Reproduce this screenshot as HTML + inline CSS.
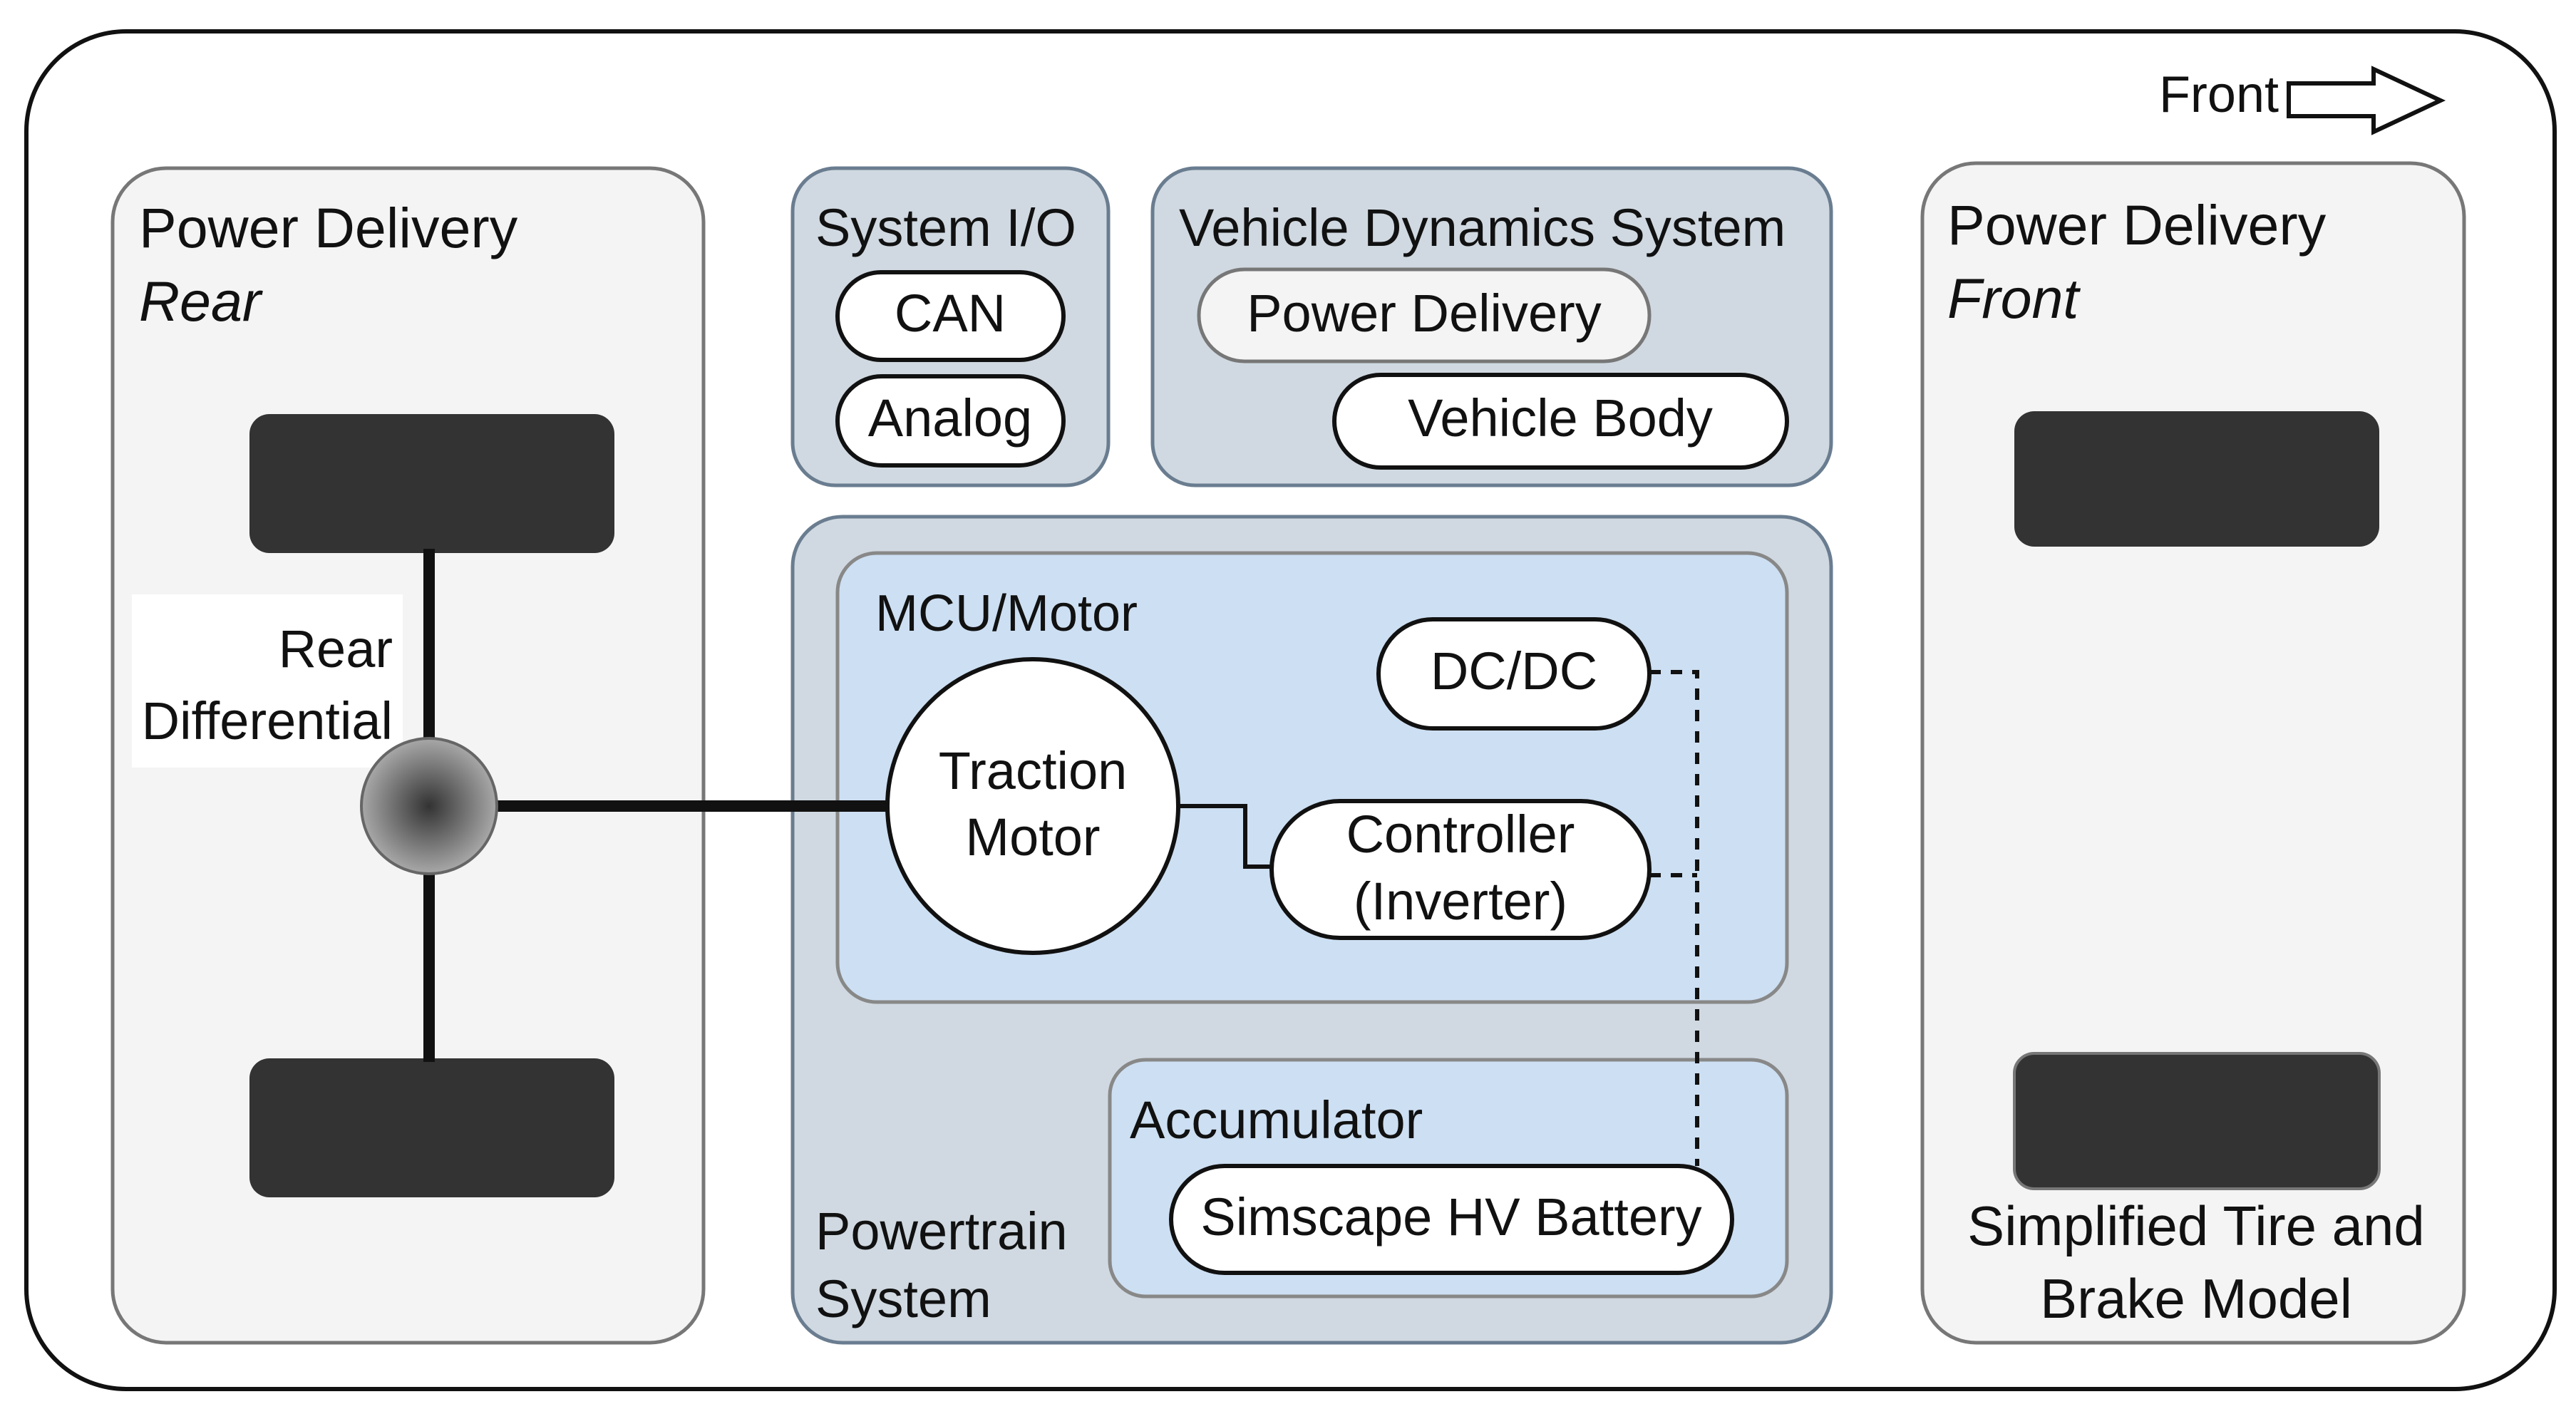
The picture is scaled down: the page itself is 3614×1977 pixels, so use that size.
<!DOCTYPE html>
<html><head><style>body{margin:0;background:#fff}svg{display:block}text{font-family:"Liberation Sans",sans-serif;fill:#111}</style></head>
<body>
<svg width="3614" height="1977" viewBox="0 0 3614 1977" xmlns="http://www.w3.org/2000/svg">
<defs>
<radialGradient id="g" cx="50%" cy="50%" r="50%"><stop offset="0" stop-color="#333"/><stop offset="1" stop-color="#a8a8a8"/></radialGradient>
</defs>
<rect x="37" y="44" width="3547" height="1905" rx="140" fill="#fff" stroke="#111" stroke-width="6"/>
<!-- Left power delivery -->
<rect x="158" y="236" width="829" height="1648" rx="75" fill="#f4f4f4" stroke="#777" stroke-width="5"/>
<text x="195" y="347" font-size="79">Power Delivery</text>
<text x="195" y="450" font-size="79" font-style="italic">Rear</text>
<rect x="350" y="581" width="512" height="195" rx="28" fill="#333"/>
<rect x="350" y="1485" width="512" height="195" rx="28" fill="#333"/>
<rect x="594" y="770" width="16" height="720" fill="#111"/>
<rect x="185" y="834" width="380" height="243" fill="#fff"/>
<text x="551" y="936" font-size="74" text-anchor="end">Rear</text>
<text x="551" y="1037" font-size="74" text-anchor="end">Differential</text>
<!-- System I/O -->
<rect x="1112" y="236" width="443" height="445" rx="60" fill="#d0d9e1" stroke="#6a7d90" stroke-width="5"/>
<text x="1144" y="345" font-size="74">System I/O</text>
<rect x="1175" y="382" width="317" height="123" rx="61" fill="#fff" stroke="#111" stroke-width="6"/>
<text x="1333" y="465" font-size="74" text-anchor="middle">CAN</text>
<rect x="1175" y="528" width="317" height="125" rx="62" fill="#fff" stroke="#111" stroke-width="6"/>
<text x="1333" y="612" font-size="74" text-anchor="middle">Analog</text>
<!-- Vehicle Dynamics -->
<rect x="1617" y="236" width="952" height="445" rx="60" fill="#d0d9e1" stroke="#6a7d90" stroke-width="5"/>
<text x="1654" y="345" font-size="74">Vehicle Dynamics System</text>
<rect x="1682" y="378" width="632" height="129" rx="64" fill="#f4f4f4" stroke="#777" stroke-width="5"/>
<text x="1998" y="465" font-size="74" text-anchor="middle">Power Delivery</text>
<rect x="1872" y="526" width="635" height="130" rx="65" fill="#fff" stroke="#111" stroke-width="6"/>
<text x="2189" y="612" font-size="74" text-anchor="middle">Vehicle Body</text>
<!-- Powertrain -->
<rect x="1112" y="725" width="1457" height="1159" rx="70" fill="#d0d9e1" stroke="#6a7d90" stroke-width="5"/>
<rect x="1175" y="776" width="1332" height="630" rx="55" fill="#cddff2" stroke="#888" stroke-width="5"/>
<text x="1228" y="885" font-size="72">MCU/Motor</text>
<rect x="1557" y="1487" width="950" height="332" rx="50" fill="#cddff2" stroke="#888" stroke-width="5"/>
<path d="M2314 943 H2381 V1636 M2314 1228 H2381" fill="none" stroke="#111" stroke-width="6" stroke-dasharray="16 14"/>
<rect x="1934" y="869" width="380" height="153" rx="76" fill="#fff" stroke="#111" stroke-width="6"/>
<text x="2124" y="967" font-size="74" text-anchor="middle">DC/DC</text>
<rect x="680" y="1123" width="600" height="16" fill="#111"/>
<circle cx="602" cy="1131" r="95" fill="url(#g)" stroke="#666" stroke-width="4"/>
<path d="M1650 1131 H1747 V1216 H1786" fill="none" stroke="#111" stroke-width="6"/>
<ellipse cx="1449" cy="1131" rx="204" ry="206" fill="#fff" stroke="#111" stroke-width="6"/>
<text x="1449" y="1107" font-size="74" text-anchor="middle">Traction</text>
<text x="1449" y="1200" font-size="74" text-anchor="middle">Motor</text>
<rect x="1784" y="1124" width="530" height="192" rx="96" fill="#fff" stroke="#111" stroke-width="6"/>
<text x="2049" y="1196" font-size="74" text-anchor="middle">Controller</text>
<text x="2049" y="1290" font-size="74" text-anchor="middle">(Inverter)</text>
<text x="1585" y="1597" font-size="74">Accumulator</text>
<rect x="1643" y="1636" width="787" height="150" rx="75" fill="#fff" stroke="#111" stroke-width="6"/>
<text x="2036" y="1733" font-size="74" text-anchor="middle">Simscape HV Battery</text>
<text x="1144" y="1753" font-size="74">Powertrain</text>
<text x="1144" y="1848" font-size="74">System</text>
<!-- Right -->
<rect x="2697" y="229" width="760" height="1655" rx="75" fill="#f4f4f4" stroke="#777" stroke-width="5"/>
<text x="2732" y="343" font-size="79">Power Delivery</text>
<text x="2732" y="446" font-size="79" font-style="italic">Front</text>
<rect x="2826" y="577" width="512" height="190" rx="28" fill="#333"/>
<rect x="2826" y="1478" width="512" height="190" rx="28" fill="#333" stroke="#777" stroke-width="4"/>
<text x="3081" y="1747" font-size="78" text-anchor="middle">Simplified Tire and</text>
<text x="3081" y="1849" font-size="78" text-anchor="middle">Brake Model</text>
<text x="3197" y="157" font-size="72" text-anchor="end">Front</text>
<path d="M3211 117 H3330 V97 L3424 141 L3330 185 V163 H3211 Z" fill="#fff" stroke="#111" stroke-width="6"/>
</svg>
</body></html>
